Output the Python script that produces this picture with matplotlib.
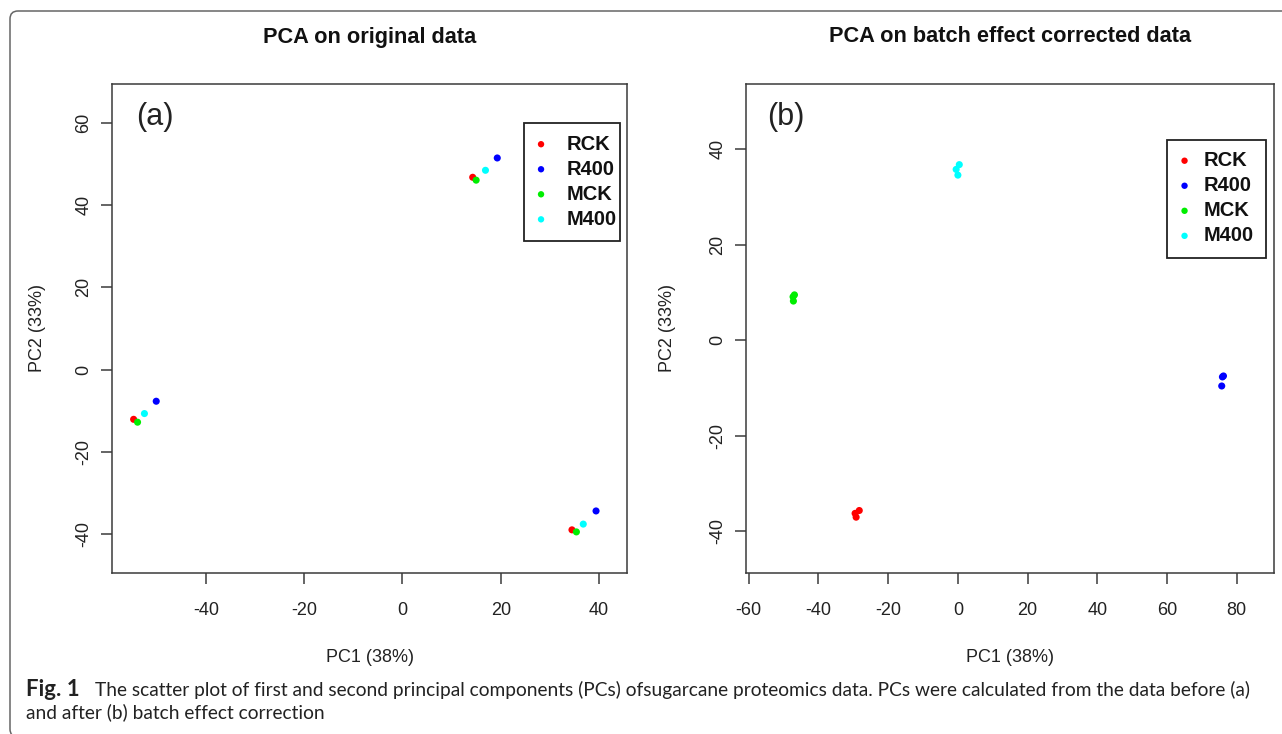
import matplotlib
matplotlib.use('agg')
import matplotlib.pyplot as plt
from matplotlib.patches import FancyBboxPatch, Rectangle
from matplotlib.transforms import IdentityTransform

########
# Data #
########

groups = ['RCK', 'R400', 'MCK', 'M400']
colors = ['#ff0000', '#0000ff', '#00ee00', '#00ffff']

# (a) original data, one point per batch
orig_pc1 = {'RCK': [-54.7, 14.3, 34.5],
            'R400': [-50.1, 19.3, 39.4],
            'MCK': [-53.9, 15.0, 35.4],
            'M400': [-52.5, 16.9, 36.8]}
orig_pc2 = {'RCK': [-12.1, 46.8, -39.0],
            'R400': [-7.7, 51.5, -34.4],
            'MCK': [-12.8, 46.1, -39.5],
            'M400': [-10.7, 48.5, -37.6]}

# (b) batch effect corrected
corr_pc1 = {'RCK': [-28.3, -29.5, -29.2],
            'R400': [76.2, 75.9, 75.7],
            'MCK': [-46.9, -47.3, -47.2],
            'M400': [0.4, -0.5, 0.0]}
corr_pc2 = {'RCK': [-35.7, -36.3, -37.1],
            'R400': [-7.5, -7.7, -9.6],
            'MCK': [9.5, 9.1, 8.2],
            'M400': [36.8, 35.8, 34.6]}

xticks_a = [-40, -20, 0, 20, 40]
yticks_a = [-40, -20, 0, 20, 40, 60]
xticks_b = [-60, -40, -20, 0, 20, 40, 60, 80]
yticks_b = [-40, -20, 0, 20, 40]

caption_bold = 'Fig. 1'
caption_1 = ('The scatter plot of first and second principal components (PCs) '
             'ofsugarcane proteomics data. PCs were calculated from the data before (a)')
caption_2 = 'and after (b) batch effect correction'

##########
# Layout #
##########

W, H = 1282, 734
plt.rcParams['font.family'] = ['Liberation Sans', 'DejaVu Sans']
plt.rcParams['axes.unicode_minus'] = False
fig = plt.figure(figsize=(W / 100, H / 100), dpi=100)


def fx(px):
    return px / W


def fy(py):
    return 1 - py / H


def panel(left, right, top, bottom):
    return fig.add_axes([fx(left), fy(bottom), (right - left) / W, (bottom - top) / H])


def style(ax, xt, yt, xlim, ylim):
    ax.set_xticks(xt)
    ax.set_yticks(yt)
    ax.set_xlim(xlim)
    ax.set_ylim(ylim)
    for s in ax.spines.values():
        s.set_color('#3a3a3a')
        s.set_linewidth(1.1)
    ax.tick_params(direction='out', length=8, width=1.1, color='#3a3a3a',
                   labelsize=13, labelcolor='#222222')
    ax.tick_params(axis='x', pad=13)
    ax.tick_params(axis='y', pad=6)
    for lab in ax.get_yticklabels():
        lab.set_rotation(90)
        lab.set_va('center')


def draw(ax, px, py):
    for g, c in zip(groups, colors):
        ax.scatter(px[g], py[g], s=26, color=c, edgecolors='none', label=g, zorder=3)


ax1 = panel(112, 627, 84, 573)
draw(ax1, orig_pc1, orig_pc2)
style(ax1, xticks_a, yticks_a, (-59.1, 45.7), (-49.5, 69.5))

ax2 = panel(746, 1274, 84, 573)
draw(ax2, corr_pc1, corr_pc2)
style(ax2, xticks_b, yticks_b, (-60.8, 90.7), (-48.8, 53.7))

# legends: box drawn by hand, entries placed by legend()
leg_fs = 14.5
# (ax, box left, box top, box right, box bottom, handle left, row top, text pad)
leg_spec = [(ax1, 524, 123, 620, 241, 536, 134.5, 1.0),
            (ax2, 1167, 140, 1266, 258, 1179.5, 151, 0.68)]
for ax, bl, bt, br, bb, hx, ry, tp in leg_spec:
    leg = ax.legend(loc='upper left', bbox_to_anchor=(fx(hx), fy(ry)),
                    bbox_transform=fig.transFigure, frameon=False,
                    scatterpoints=1, markerscale=0.9,
                    prop={'weight': 'bold', 'size': leg_fs}, labelspacing=0.30,
                    borderpad=0, handlelength=0.5, handletextpad=tp,
                    borderaxespad=0)
    for txt in leg.get_texts():
        txt.set_color('#111111')
    fig.add_artist(Rectangle((bl, H - bb), br - bl, bb - bt, transform=IdentityTransform(),
                             fill=False, edgecolor='#222222', linewidth=1.3))

# titles, panel tags, axis labels
fig.text(fx(369.5), fy(37), 'PCA on original data', ha='center', va='center',
         fontsize=15.7, weight='bold', color='#111111')
fig.text(fx(1010), fy(37), 'PCA on batch effect corrected data', ha='center',
         va='center', fontsize=15.7, weight='bold', color='#111111')
fig.text(fx(136), fy(117), '(a)', ha='left', va='center', fontsize=22, color='#222222')
fig.text(fx(767), fy(117), '(b)', ha='left', va='center', fontsize=22, color='#222222')
for cx in [369.5, 1010]:
    fig.text(fx(cx), fy(657), 'PC1 (38%)', ha='center', va='center', fontsize=13,
             color='#222222')
for cx in [38, 668]:
    fig.text(fx(cx), fy(328), 'PC2 (33%)', ha='center', va='center', fontsize=13,
             rotation=90, color='#222222')

# caption, fitted to the width it has in the figure
fs = 14
t0 = fig.text(fx(26), fy(690), caption_bold, family='Lato', weight='bold',
              fontsize=fs, va='center', color='#222222')
t1 = fig.text(fx(95), fy(690), caption_1, family='Lato', fontsize=fs,
              va='center', color='#222222')
t2 = fig.text(fx(26), fy(712), caption_2, family='Lato', fontsize=fs,
              va='center', color='#222222')
r = fig.canvas.get_renderer()
fs = fs * 1161 / t1.get_window_extent(r).width
fs_bold = 14 * 54 / t0.get_window_extent(r).width
t1.set_fontsize(fs)
t2.set_fontsize(fs)
t0.set_fontsize(fs_bold)

# outer rounded frame
frame = FancyBboxPatch((10, -3), 1300, H - 11 + 3, boxstyle='round,pad=0,rounding_size=8',
                       transform=IdentityTransform(), fill=False, edgecolor='#666666',
                       linewidth=1.1)
fig.add_artist(frame)

fig.savefig('out.png', dpi=100)
